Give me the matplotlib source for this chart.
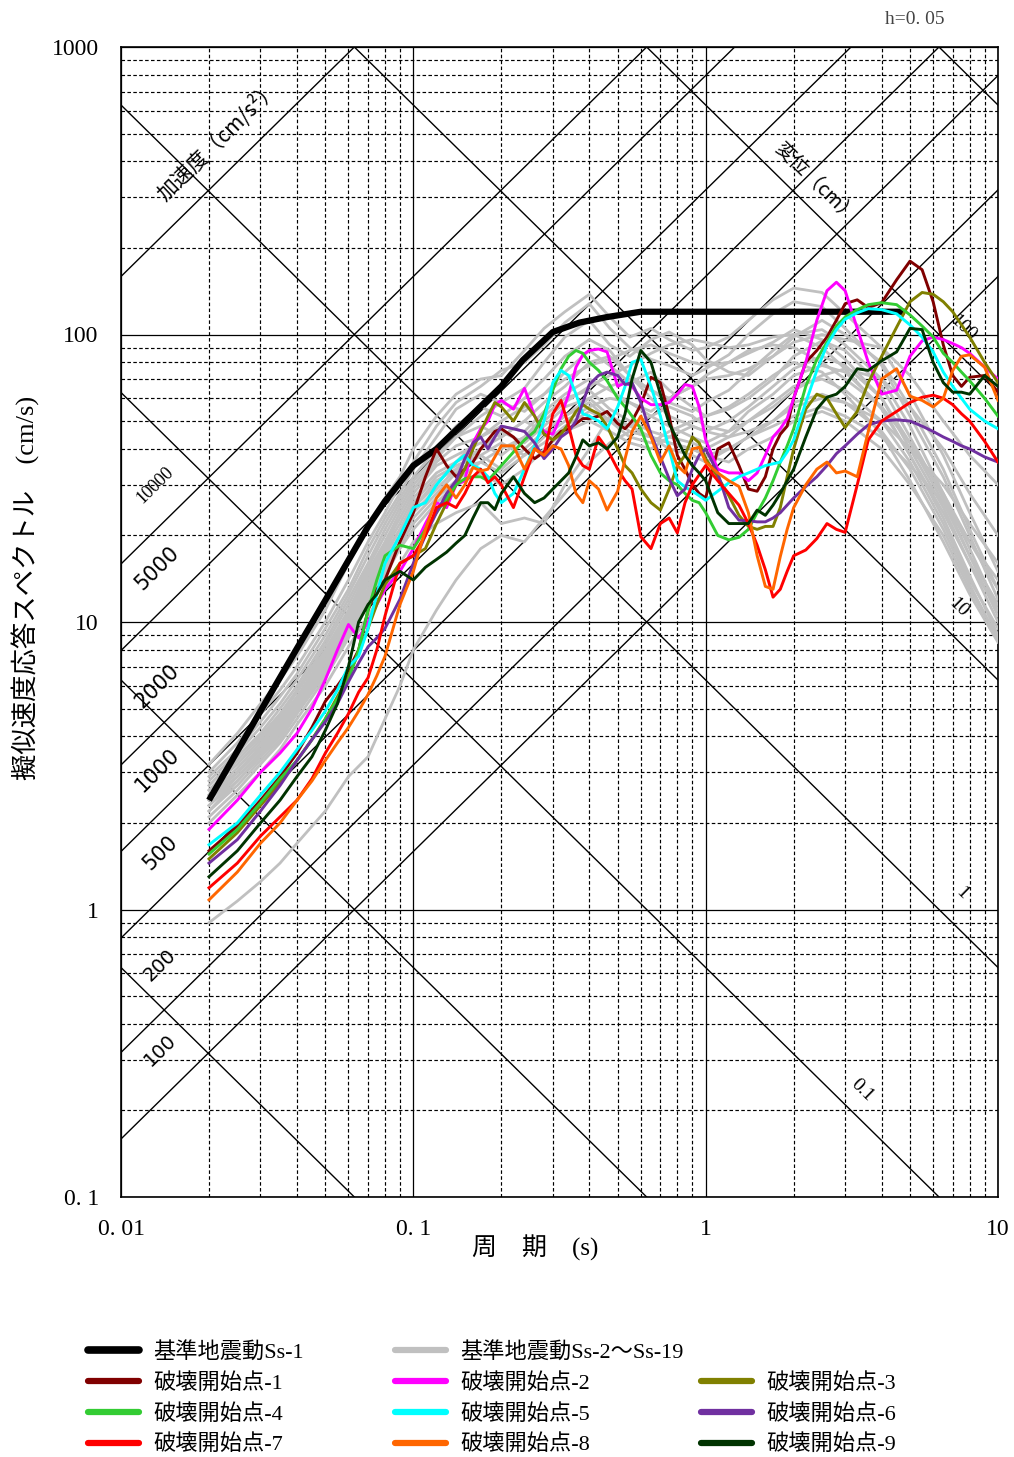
import numpy as np
import matplotlib.pyplot as plt
from matplotlib.ticker import LogLocator, NullFormatter, FixedLocator, FixedFormatter
from matplotlib.lines import Line2D

# ---- data -------------------------------------------------------------
# Ss-1 design spectrum
t_ss1 = [0.02, 0.03, 0.04, 0.05, 0.06, 0.07, 0.08, 0.1, 0.12, 0.165, 0.2, 0.237, 0.3, 0.37, 0.46, 0.6, 4.8]
sv_ss1 = [2.4, 4.9, 8.1, 11.9, 16.4, 21.5, 26.3, 35, 40, 54.6, 66, 81.5, 102, 110, 115, 120, 120]

# Ss-2 ~ Ss-19 (gray)
t_gray = [0.02, 0.025, 0.03, 0.035, 0.04, 0.05, 0.06, 0.07, 0.08, 0.09, 0.1, 0.12, 0.14, 0.17,
          0.2, 0.24, 0.28, 0.33, 0.4, 0.47, 0.55, 0.65, 0.75, 0.9, 1.0, 1.2, 1.4, 1.7, 2.0, 2.5,
          3.0, 4.0, 5.0, 6.5, 8.0, 10.0]
sv_gray = [
    [3.2, 4.1, 5.2, 6.3, 7.6, 11, 16, 22, 27, 32, 40, 52, 62, 70, 72, 88, 105, 120, 138, 115, 98, 105, 96, 88, 90, 98, 112, 132, 145, 140, 118, 90, 62, 38, 24, 15],
    [3.0, 3.8, 4.8, 5.8, 7.0, 10, 14, 19, 24, 30, 36, 48, 58, 66, 75, 80, 92, 110, 128, 105, 90, 82, 78, 72, 76, 85, 100, 118, 130, 125, 105, 78, 52, 32, 20, 12],
    [2.9, 3.6, 4.5, 5.5, 6.6, 9.5, 13, 18, 23, 28, 34, 44, 55, 62, 58, 65, 80, 98, 112, 92, 84, 96, 102, 92, 82, 74, 72, 84, 98, 112, 100, 80, 56, 34, 21, 13],
    [2.8, 3.5, 4.3, 5.2, 6.3, 9, 12.5, 17, 22, 27, 32, 40, 48, 56, 52, 60, 70, 84, 96, 88, 72, 64, 58, 54, 58, 64, 74, 88, 100, 104, 92, 70, 48, 28, 18, 11],
    [2.7, 3.4, 4.1, 5.0, 6.0, 8.6, 12, 16, 21, 26, 31, 38, 44, 52, 58, 54, 62, 74, 88, 78, 68, 74, 64, 56, 52, 55, 60, 70, 84, 95, 88, 66, 44, 27, 17, 10.5],
    [2.6, 3.3, 4.0, 4.8, 5.8, 8.3, 11.5, 15.5, 20, 25, 30, 37, 44, 48, 44, 50, 58, 66, 80, 84, 72, 60, 52, 48, 46, 50, 56, 66, 76, 84, 78, 60, 40, 25, 16, 10],
    [2.6, 3.2, 3.9, 4.7, 5.7, 8.0, 11, 15, 19, 24, 29, 36, 41, 44, 48, 46, 54, 62, 70, 64, 58, 52, 48, 44, 42, 46, 54, 62, 72, 78, 74, 56, 38, 23, 14.5, 9],
    [2.5, 3.1, 3.8, 4.6, 5.5, 7.8, 10.8, 14.5, 18.5, 23, 28, 35, 38, 42, 38, 44, 52, 60, 64, 55, 50, 46, 44, 42, 40, 44, 50, 58, 66, 70, 64, 50, 36, 22, 14, 9.5],
    [2.5, 3.0, 3.7, 4.5, 5.4, 7.6, 10.5, 14, 18, 22, 27, 33, 36, 40, 46, 42, 48, 56, 60, 52, 46, 44, 42, 40, 38, 40, 44, 50, 58, 62, 58, 46, 34, 21, 13.5, 8.7],
    [2.4, 3.0, 3.6, 4.4, 5.3, 7.4, 10.2, 13.5, 17.5, 21, 26, 32, 35, 38, 34, 40, 46, 52, 58, 50, 44, 42, 46, 50, 52, 56, 62, 72, 80, 74, 62, 45, 31, 19, 12.5, 8.5],
    [2.4, 2.9, 3.5, 4.3, 5.2, 7.2, 10, 13, 17, 21, 25, 31, 34, 36, 40, 44, 50, 58, 66, 72, 78, 86, 92, 96, 94, 90, 92, 98, 100, 90, 76, 55, 38, 24, 16, 11],
    [2.3, 2.9, 3.5, 4.2, 5.1, 7.0, 9.8, 12.8, 16.5, 20, 25, 30, 36, 44, 50, 56, 62, 70, 78, 82, 88, 92, 86, 80, 78, 80, 86, 94, 104, 96, 82, 60, 42, 26, 17, 11.5],
    [2.3, 2.8, 3.4, 4.1, 5.0, 6.9, 9.5, 12.5, 16, 20, 24, 29, 34, 40, 44, 50, 46, 52, 60, 66, 70, 64, 60, 66, 72, 80, 88, 92, 90, 80, 70, 56, 42, 28, 19, 13],
    [2.2, 2.8, 3.4, 4.0, 4.9, 6.8, 9.3, 12.2, 15.5, 19, 23, 28, 33, 38, 42, 38, 44, 50, 56, 60, 58, 54, 60, 66, 70, 72, 76, 84, 94, 100, 96, 90, 72, 50, 38, 30],
    [2.2, 2.7, 3.3, 3.9, 4.8, 6.6, 9.0, 12, 15, 18.5, 22, 27, 31, 36, 33, 38, 42, 48, 54, 50, 48, 52, 56, 52, 48, 46, 50, 56, 64, 72, 76, 70, 56, 40, 28, 20],
    [2.1, 2.6, 3.2, 3.8, 4.6, 6.4, 8.8, 11.5, 14.5, 18, 21, 26, 30, 33, 30, 34, 40, 46, 50, 46, 42, 40, 44, 48, 46, 44, 46, 50, 56, 60, 58, 50, 40, 30, 22, 16],
    [2.0, 2.5, 3.0, 3.6, 4.4, 6.0, 8.2, 10.5, 13, 16, 19, 22, 24, 26, 22, 23, 22, 30, 40, 52, 48, 44, 40, 38, 36, 40, 44, 48, 52, 56, 52, 44, 35, 26, 19, 14],
    [0.9, 1.07, 1.25, 1.45, 1.7, 2.2, 2.9, 3.4, 4.6, 6.0, 8.0, 11, 14, 18, 20, 19, 23, 28, 36, 42, 46, 44, 42, 40, 38, 36, 40, 44, 50, 54, 50, 40, 30, 20, 13, 8.8],
]

# 破壊開始点-1..9
t_case = [0.02, 0.025, 0.03, 0.035, 0.04, 0.045, 0.05, 0.055, 0.06, 0.065, 0.07, 0.075, 0.08,
          0.09, 0.1,
          0.11, 0.12, 0.13, 0.14, 0.15, 0.16, 0.17, 0.18, 0.19, 0.2,
          0.22, 0.24, 0.26, 0.28, 0.3,
          0.32, 0.34, 0.36, 0.38, 0.4,
          0.43, 0.46, 0.5,
          0.53, 0.56, 0.6,
          0.65, 0.7, 0.75, 0.8, 0.85, 0.9, 0.95, 1.0,
          1.1, 1.2, 1.3, 1.4, 1.5, 1.6, 1.7, 1.8, 1.9, 2.0,
          2.2, 2.4, 2.6, 2.8, 3.0,
          3.3, 3.6, 4.0,
          4.5, 5.0, 5.5, 6.0, 6.5, 7.0, 7.5, 8.0,
          9.0, 10.0]

sv_case1 = [1.6, 1.95, 2.4, 2.9, 3.5, 4.3, 5.3, 6.0, 6.8, 8.0, 11, 13, 14,
            19, 24,
            32, 40, 35, 32, 34, 36, 40, 43, 46, 47,
            44, 40, 37, 39, 43,
            46, 47, 49, 51, 51,
            52, 54, 49,
            47, 50, 57,
            71, 68, 52, 38, 34, 30, 28, 27,
            40, 42, 35, 29, 28.5, 32, 40, 45, 48, 60,
            80, 88, 98, 112, 128,
            132, 124, 129,
            155, 180, 168, 130, 92, 72, 66, 71,
            72, 63]
sv_case2 = [1.9, 2.4, 3.0, 3.5, 4.1, 5.0, 6.3, 8.0, 9.8, 8.8, 10.0, 11.5, 13,
            15, 18,
            22, 26, 25, 30, 31, 42, 47, 50, 57, 59,
            55, 65, 52, 46, 45,
            52, 62, 77, 85, 88,
            89, 87, 66,
            68, 66, 60,
            57, 57, 58, 62, 67, 66, 56, 43,
            34, 33, 33, 31, 33, 38, 44, 47, 51, 60,
            80, 112, 142, 152, 142,
            105, 80, 62,
            64, 84, 95, 98, 96, 93, 90, 86,
            77, 70]
sv_case3 = [1.5, 1.85, 2.3, 2.75, 3.3, 3.9, 4.6, 5.5, 6.5, 7.8, 9.5, 11.5, 13.5,
            16, 17,
            18, 22, 26, 30, 34, 40, 46, 52, 58, 56,
            50, 58, 52, 45, 43,
            45, 49, 54, 57, 55,
            53, 48, 40,
            35, 33, 29,
            26, 24.5, 29, 35, 38, 44, 42, 37,
            32, 27.5, 23.5, 21.5, 21, 21.5, 21.5, 25, 32, 40,
            55, 62, 60, 53, 47.5,
            54, 68, 84,
            106, 130, 140, 138, 130, 120, 108, 98,
            80, 68]
sv_case4 = [1.56, 1.9, 2.35, 2.85, 3.3, 3.9, 4.6, 5.4, 6.3, 8.0, 11, 14, 17,
            18.5, 18,
            21, 24, 27, 30, 31.5, 32, 32, 31, 33, 35,
            39, 43, 46, 53, 64,
            76, 84, 88, 86, 80,
            75, 69, 60,
            56, 52, 47,
            38, 33, 31, 30, 28, 26.5, 26, 24,
            20, 19.3, 19.7, 21, 24, 27, 31, 36, 41, 47,
            66, 82, 94, 107, 115,
            122, 127, 129,
            127, 117, 107, 98, 86, 80, 74, 69,
            60, 52]
sv_case5 = [1.68, 2.0, 2.5, 3.0, 3.6, 4.2, 4.9, 5.8, 7.0, 7.6, 9.5, 12.5, 16,
            20, 25,
            26, 30, 33, 36, 38, 35, 34, 32, 28, 26,
            28, 34, 41, 50, 68,
            75, 72, 62, 53, 52,
            50, 47, 56,
            66, 80, 82,
            66, 52, 40, 31, 29.5, 28.5, 27.5, 26.5,
            28.5, 30.5, 32, 33, 34, 35, 35.5, 36, 39, 43,
            58, 75, 92, 104, 113,
            119, 123, 122,
            118, 108, 98, 87, 74, 66, 60, 55,
            50, 47]
sv_case6 = [1.45, 1.75, 2.2, 2.7, 3.3, 3.9, 4.5, 5.2, 6.2, 7.2, 8.2, 8.8, 9.5,
            12, 16,
            20, 24, 28, 31, 37, 42, 44, 40, 44, 48,
            47, 46, 42, 37, 40,
            44, 46, 50, 58, 67,
            72, 74, 72,
            67, 68, 58,
            45, 37.5, 31.5, 27.5, 29, 34, 38, 40,
            33, 25, 22.6, 22.5, 22.3, 22.3, 23, 24, 25.5, 27,
            29.6, 32, 35, 38.5, 41,
            45, 48.5, 50,
            50.5, 50, 48, 46, 44, 42.5, 41, 40,
            37.5, 36]
sv_case7 = [1.19, 1.45, 1.8, 2.1, 2.4, 2.85, 3.5, 4.1, 4.8, 5.7, 6.4, 8.0, 10.5,
            16, 17,
            20, 25, 26, 25, 28, 32, 34, 30.5, 32, 30,
            25, 32, 40, 38, 53,
            59, 48, 38, 35, 34,
            44, 40, 34,
            31, 29, 19.8,
            18, 22, 23, 20.4, 26, 30, 32.5, 35,
            31, 28, 25.5, 22, 18.5, 15.2, 12.2, 13, 15, 17,
            17.8, 19.5, 22, 21, 20.5,
            30, 43, 50,
            54, 58, 60.5, 61.5, 60, 57, 53, 50,
            42.5, 36]
sv_case8 = [1.08, 1.35, 1.7, 2.0, 2.4, 2.8, 3.3, 3.8, 4.3, 4.9, 5.6, 6.5, 7.6,
            11.5, 15,
            21, 27, 30, 27, 30, 34.5, 33.5, 34, 37.5, 41,
            41, 34, 40, 38, 41,
            40, 35, 28, 26, 31,
            29, 24.5, 28.5,
            37, 46, 52,
            44, 36, 41, 35, 33, 40, 40.5, 36,
            33, 31, 29.6, 24, 17, 13.3, 13, 16.9, 21, 25,
            30, 34, 36, 33, 33.5,
            32, 46, 70,
            76, 61, 59, 56, 60, 75, 84, 85,
            77, 59]
sv_case9 = [1.3, 1.6, 2.0, 2.4, 2.9, 3.4, 4.2, 5.2, 7.0, 10, 11.5, 12.5, 14,
            15, 14,
            15.5, 16.5, 17.5, 18.8, 20, 23, 26, 26, 24.6, 28,
            32, 28, 26, 27, 29,
            31, 33, 37.5, 43, 41,
            42, 40, 44,
            53, 70, 88,
            80, 62, 49, 43, 38, 35, 33, 31,
            24, 22, 22, 22, 24.5, 23.5, 25.5, 28, 31, 34,
            44, 55, 60.5, 62, 66,
            76, 75, 81,
            87, 105, 104, 80, 68, 63, 63, 62,
            72, 66]

case_vals = [sv_case1, sv_case2, sv_case3, sv_case4, sv_case5,
             sv_case6, sv_case7, sv_case8, sv_case9]
case_colors = ['#800000', '#ff00ff', '#808000', '#33cc33', '#00ffff',
               '#7030a0', '#ff0000', '#ff6600', '#003300']
case_labels = ['破壊開始点-%d' % i for i in range(1, 10)]

acc_lines = [100, 200, 500, 1000, 2000, 5000, 10000, 100000]     # cm/s^2
disp_lines = [0.0001, 0.001, 0.01, 0.1, 1, 10, 100, 1000]       # cm

JP = ['Liberation Serif', 'Noto Sans CJK JP']

# ---- figure ------------------------------------------------------------
fig = plt.figure(figsize=(10.14, 14.57), dpi=100)
ax = fig.add_axes([121 / 1014, 260 / 1457, 877 / 1014, 1150 / 1457])
ax.set_xscale('log')
ax.set_yscale('log')
ax.set_xlim(0.01, 10)
ax.set_ylim(0.1, 1000)

ax.xaxis.set_minor_locator(LogLocator(base=10, subs=np.arange(2, 10)))
ax.yaxis.set_minor_locator(LogLocator(base=10, subs=np.arange(2, 10)))
ax.xaxis.set_minor_formatter(NullFormatter())
ax.yaxis.set_minor_formatter(NullFormatter())
ax.xaxis.set_major_locator(FixedLocator([0.01, 0.1, 1, 10]))
ax.xaxis.set_major_formatter(FixedFormatter(['0. 01', '0. 1', '1', '10']))
ax.yaxis.set_major_locator(FixedLocator([0.1, 1, 10, 100, 1000]))
ax.yaxis.set_major_formatter(FixedFormatter(['0. 1', '1', '10', '100', '1000']))
ax.tick_params(which='both', direction='in', length=0)
ax.tick_params(axis='x', pad=16)
ax.tick_params(axis='y', pad=16)
for lab in ax.get_xticklabels() + ax.get_yticklabels():
    lab.set_family('Liberation Serif')
    lab.set_fontsize(17)

ax.grid(which='major', color='black', lw=0.9, ls='-')
ax.grid(which='minor', color='black', lw=0.85, ls=(0, (3, 2)))
for s in ax.spines.values():
    s.set_linewidth(1.2)

# tripartite lines
tl = np.array([0.01, 10.0])
for a in acc_lines:
    ax.plot(tl, a * tl / (2 * np.pi), color='black', lw=1.0, zorder=1)
for d in disp_lines:
    ax.plot(tl, 2 * np.pi * d / tl, color='black', lw=1.0, zorder=1)

rot = 44.5
acc_lab = [(0.01307, 30, '10000', 'Liberation Serif', 13),
           (0.0133, 15.4, '5000', 'DejaVu Sans', 15),
           (0.0133, 6.0, '2000', 'DejaVu Sans', 15),
           (0.0133, 3.06, '1000', 'DejaVu Sans', 15),
           (0.0136, 1.57, '500', 'DejaVu Sans', 15),
           (0.0136, 0.64, '200', 'DejaVu Sans', 14),
           (0.0136, 0.325, '100', 'DejaVu Sans', 14)]
for tx, ty, s, fam, fs in acc_lab:
    ax.text(tx, ty, s, rotation=rot, ha='center', va='center', family=fam, fontsize=fs)
ax.text(0.0215, 470, '加速度（cm/s²）', rotation=rot, ha='center', va='center',
        family=['Noto Sans CJK JP', 'DejaVu Sans'], fontsize=15)
ax.text(2.37, 336, '変位（cm）', rotation=-rot, ha='center', va='center',
        family=['Noto Sans CJK JP', 'DejaVu Sans'], fontsize=14)
disp_lab = [(7.6, 105, '100'), (7.3, 11.2, '10'), (7.53, 1.14, '1'), (3.43, 0.235, '0.1')]
for tx, ty, s in disp_lab:
    ax.text(tx, ty, s, rotation=-rot, ha='center', va='center',
            family='Liberation Serif', fontsize=14)

# spectra
for sv in sv_gray:
    ax.plot(t_gray, sv, color='#c0c0c0', lw=2.0, zorder=3)
ax.plot(t_ss1, sv_ss1, color='black', lw=4.5, zorder=4, solid_capstyle='butt')
for sv, c in zip(case_vals, case_colors):
    ax.plot(t_case, sv, color=c, lw=2.1, zorder=5)

# labels
fig.text(535 / 1014, 1 - 1248 / 1457, '周　期　(s)', ha='center', va='center',
         family=JP, fontsize=18)
fig.text(26 / 1014, 1 - 588 / 1457, '擬似速度応答スペクトル　(cm/s)', rotation=90,
         ha='center', va='center', family=JP, fontsize=19)
fig.text(915 / 1014, 1 - 20 / 1457, 'h=0. 05', ha='center', va='center',
         family='Liberation Serif', fontsize=14, color='#444444')

# legend
def handle(c, lw=4.5):
    return Line2D([], [], color=c, lw=lw, solid_capstyle='round')

leg_kw = dict(frameon=False, loc='upper left', prop={'family': JP, 'size': 16},
              handlelength=2.3, handletextpad=0.65, labelspacing=0.45,
              borderpad=0, borderaxespad=0)
col1 = [handle('black', 5.5), handle(case_colors[0]), handle(case_colors[3]), handle(case_colors[6])]
lab1 = ['基準地震動Ss-1', case_labels[0], case_labels[3], case_labels[6]]
col2 = [handle('#c0c0c0'), handle(case_colors[1]), handle(case_colors[4]), handle(case_colors[7])]
lab2 = ['基準地震動Ss-2〜Ss-19', case_labels[1], case_labels[4], case_labels[7]]
col3 = [handle(case_colors[2]), handle(case_colors[5]), handle(case_colors[8])]
lab3 = [case_labels[2], case_labels[5], case_labels[8]]
fig.legend(col1, lab1, bbox_to_anchor=(88 / 1014, 1 - 1342 / 1457), **leg_kw)
fig.legend(col2, lab2, bbox_to_anchor=(395 / 1014, 1 - 1342 / 1457), **leg_kw)
fig.legend(col3, lab3, bbox_to_anchor=(701 / 1014, 1 - 1373 / 1457), **leg_kw)

fig.savefig('out.png', dpi=100)
